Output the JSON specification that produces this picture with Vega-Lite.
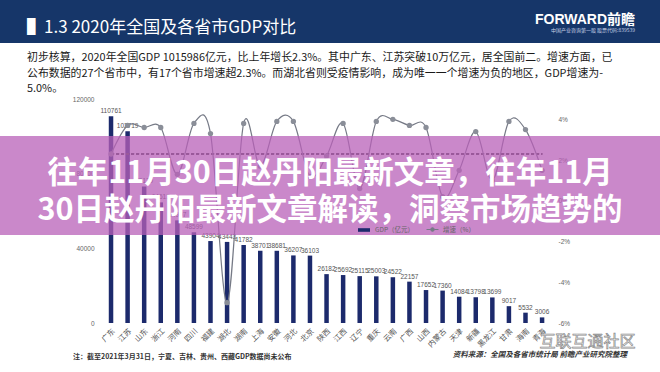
{
  "$schema": "https://vega.github.io/schema/vega-lite/v6.json",
  "width": 660,
  "height": 224,
  "autosize": {"type": "none"},
  "padding": {"top": 99, "left": 0, "right": 0, "bottom": 49},
  "background": "#ffffff",
  "config": {"view": {"stroke": null}, "font": "Noto Sans CJK SC"},
  "title": {
    "text": "▌1.3 2020年全国及各省市GDP对比",
    "subtitle": [
      "初步核算，2020年全国GDP 1015986亿元，比上年增长2.3%。其中广东、江苏突破10万亿元，居全国前二。增速方面，已",
      "公布数据的27个省市中，有17个省市增速超2.3%。而湖北省则受疫情影响，成为唯一一个增速为负的地区，GDP增速为-",
      "5.0%。"
    ],
    "anchor": "start",
    "frame": "group",
    "orient": "top",
    "font": "Noto Sans CJK SC",
    "fontSize": 17,
    "fontWeight": "normal",
    "color": "#ffffff",
    "subtitleFont": "Noto Sans CJK SC",
    "subtitleFontSize": 10.9,
    "subtitleColor": "#1a1a1a",
    "subtitleLineHeight": 15.3,
    "subtitlePadding": 15,
    "offset": -95,
    "dx": 27
  },
  "datasets": {
    "prov": [
      {"p": "广东", "gdp": 110761, "g": 2.3},
      {"p": "江苏", "gdp": 102719, "g": 3.7},
      {"p": "山东", "gdp": 73129, "g": 3.6},
      {"p": "浙江", "gdp": 64613, "g": 3.6},
      {"p": "河南", "gdp": 54997, "g": 1.3},
      {"p": "四川", "gdp": 48599, "g": 3.8},
      {"p": "福建", "gdp": 43904, "g": 3.3},
      {"p": "湖北", "gdp": 43443, "g": -5.0},
      {"p": "湖南", "gdp": 41782, "g": 3.8},
      {"p": "上海", "gdp": 38701, "g": 1.7},
      {"p": "安徽", "gdp": 38681, "g": 3.9},
      {"p": "河北", "gdp": 36207, "g": 3.9},
      {"p": "北京", "gdp": 36103, "g": 1.2},
      {"p": "陕西", "gdp": 26182, "g": 2.2},
      {"p": "江西", "gdp": 25692, "g": 3.8},
      {"p": "辽宁", "gdp": 25115, "g": 0.6},
      {"p": "重庆", "gdp": 25003, "g": 3.9},
      {"p": "云南", "gdp": 24522, "g": 4.0},
      {"p": "广西", "gdp": 22157, "g": 3.7},
      {"p": "山西", "gdp": 17652, "g": 3.6},
      {"p": "内蒙古", "gdp": 17360, "g": 0.2},
      {"p": "天津", "gdp": 14084, "g": 1.5},
      {"p": "新疆", "gdp": 13798, "g": 3.4},
      {"p": "黑龙江", "gdp": 13699, "g": 1.0},
      {"p": "甘肃", "gdp": 9017, "g": 3.9},
      {"p": "海南", "gdp": 5532, "g": 3.5},
      {"p": "青海", "gdp": 3006, "g": 1.5}
    ],
    "header": [{"logo": "FORWARD前瞻", "sub": "中国产业咨询第一股  股票代码:839539"}],
    "notes": [{"note": "注：截至2021年3月31日，宁夏、吉林、贵州、西藏GDP数据尚未公布", "source": "资料来源：全国及各省市统计局 前瞻产业研究院整理", "wm": "互联互通社区"}],
    "banner": [{"t": ["往年11月30日赵丹阳最新文章，往年11月", "30日赵丹阳最新文章解读，洞察市场趋势的"]}]
  },
  "data": {"name": "prov"},
  "layer": [
    {
      "layer": [
        {
          "data": {"name": "header"},
          "mark": {"type": "rect", "color": "#163669"},
          "encoding": {
            "y": {"datum": 173036, "type": "quantitative", "scale": {"domain": [0, 120000], "nice": false}},
            "y2": {"datum": 150000}
          }
        },
        {
          "mark": {"type": "bar"},
          "encoding": {
            "x": {
              "field": "p", "type": "nominal", "sort": null,
              "scale": {"range": [92.2, 560.9], "paddingInner": 0.729, "paddingOuter": 1, "align": 0.5},
              "axis": {"title": null, "labelAngle": -45, "labelFontSize": 7.5, "labelColor": "#555555", "labelFont": "Noto Sans CJK SC", "ticks": false, "domain": false, "labelPadding": 4}
            },
            "y": {
              "field": "gdp", "type": "quantitative",
              "scale": {"domain": [0, 120000], "nice": false},
              "axis": {"title": null, "orient": "left", "values": [0, 20000, 40000, 60000, 80000, 100000, 120000], "format": "d", "offset": -97, "labelFontSize": 6.5, "labelColor": "#666666", "labelFont": "Liberation Sans", "ticks": false, "domain": false, "grid": false, "labelPadding": 3}
            },
            "fill": {
              "datum": "GDP（亿元）", "type": "nominal",
              "scale": {"range": ["#1c2a6c"]},
              "legend": {"title": null, "orient": "none", "legendX": 357, "legendY": 124, "symbolType": "M-1,-0.3H1V0.3H-1Z", "symbolSize": 144, "labelFontSize": 6.5, "labelColor": "#666666", "labelFont": "Noto Sans CJK SC", "padding": 0}
            }
          }
        },
        {
          "mark": {"type": "text", "baseline": "bottom", "dy": -2, "fontSize": 6.5, "font": "Liberation Sans", "color": "#555555"},
          "encoding": {
            "x": {"field": "p", "type": "nominal", "sort": null},
            "y": {"field": "gdp", "type": "quantitative"},
            "text": {"field": "gdp", "type": "quantitative", "format": "d"}
          }
        },
        {
          "data": {"name": "header"},
          "mark": {"type": "text", "align": "right", "baseline": "middle", "fontSize": 14, "fontWeight": "bold", "color": "#ffffff", "dx": 93, "font": "Liberation Sans, Noto Sans CJK SC"},
          "encoding": {"x": {"datum": "青海"}, "y": {"datum": 162321}, "text": {"field": "logo"}}
        },
        {
          "data": {"name": "header"},
          "mark": {"type": "text", "align": "right", "baseline": "middle", "fontSize": 5, "color": "#c8d2e6", "dx": 93},
          "encoding": {"x": {"datum": "青海"}, "y": {"datum": 156964}, "text": {"field": "sub"}}
        },
        {
          "data": {"name": "notes"},
          "mark": {"type": "text", "align": "left", "baseline": "middle", "fontSize": 7, "fontWeight": "bold", "color": "#333333", "dx": -38},
          "encoding": {"x": {"datum": "广东"}, "y": {"datum": -18214}, "text": {"field": "note"}}
        },
        {
          "data": {"name": "notes"},
          "mark": {"type": "text", "align": "right", "baseline": "middle", "fontSize": 7.5, "fontStyle": "italic", "fontWeight": "bold", "color": "#333333", "dx": 85},
          "encoding": {"x": {"datum": "青海"}, "y": {"datum": -17143}, "text": {"field": "source"}}
        },
        {
          "data": {"name": "notes"},
          "mark": {"type": "text", "align": "left", "baseline": "middle", "fontSize": 16, "color": "#ffffff", "stroke": "#8a8a8a", "strokeWidth": 0.7, "dx": 14},
          "encoding": {"x": {"datum": "海南"}, "y": {"datum": -10179}, "text": {"field": "wm"}}
        }
      ]
    },
    {
      "layer": [
        {
          "mark": {"type": "rule", "strokeDash": [3, 2], "color": "#444444", "strokeWidth": 0.8},
          "encoding": {
            "x": {"datum": "广东"},
            "x2": {"datum": "青海"},
            "y": {"datum": 2.3, "type": "quantitative"}
          }
        },
        {
          "mark": {"type": "line", "interpolate": "cardinal", "strokeWidth": 1.2},
          "encoding": {
            "x": {"field": "p", "type": "nominal", "sort": null},
            "y": {
              "field": "g", "type": "quantitative",
              "scale": {"domain": [-6, 5], "nice": false, "zero": false},
              "axis": {"title": null, "orient": "right", "values": [-6, -5, -4, -3, -2, -1, 0, 1, 2, 3, 4, 5], "labelExpr": "datum.value + '%'", "offset": -107, "labelFontSize": 6.5, "labelColor": "#666666", "labelFont": "Liberation Sans", "ticks": false, "domain": false, "grid": false, "labelPadding": 5}
            },
            "stroke": {
              "datum": "增速（%）", "type": "nominal",
              "scale": {"range": ["#767a86"]},
              "legend": {"title": null, "orient": "none", "legendX": 426, "legendY": 124, "symbolType": "M-1,0H-0.3M0.3,0H1M0.3,0A0.3,0.3,0,1,1,-0.3,0A0.3,0.3,0,1,1,0.3,0", "symbolSize": 144, "symbolFillColor": "#767a86", "symbolStrokeWidth": 1, "labelFontSize": 6.5, "labelColor": "#666666", "labelFont": "Noto Sans CJK SC", "padding": 0}
            }
          }
        },
        {
          "mark": {"type": "point", "filled": true, "size": 28, "color": "#8a8e98", "opacity": 1},
          "encoding": {
            "x": {"field": "p", "type": "nominal", "sort": null},
            "y": {"field": "g", "type": "quantitative"}
          }
        },
        {
          "data": {"name": "banner"},
          "mark": {"type": "rect", "color": "#b860b8", "opacity": 0.75},
          "encoding": {
            "y": {"datum": 3.183, "type": "quantitative"},
            "y2": {"datum": -1.679}
          }
        },
        {
          "data": {"name": "banner"},
          "mark": {"type": "text", "align": "center", "baseline": "middle", "fontSize": 30.5, "fontWeight": "bold", "font": "Noto Sans CJK SC", "color": "#ffffff", "lineHeight": 37},
          "encoding": {
            "y": {"datum": 1.317, "type": "quantitative"},
            "text": {"field": "t"}
          }
        }
      ]
    }
  ],
  "resolve": {"scale": {"y": "independent"}}
}
